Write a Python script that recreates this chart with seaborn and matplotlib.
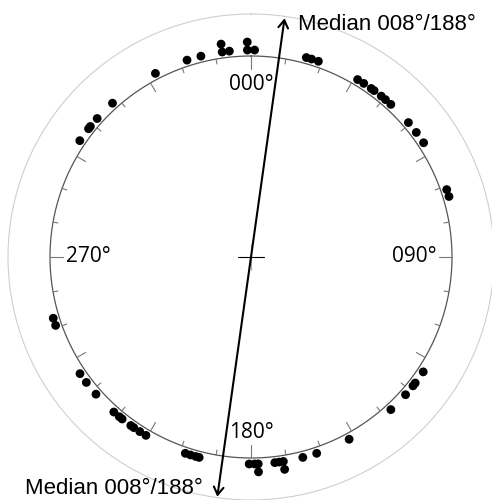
import numpy as np
import pandas as pd
import matplotlib.pyplot as plt
import seaborn as sns

# -------------------- Data --------------------
# bearing of each observation (degrees) and its position in a stack (1 = on the circle)
bearings = [332.5, 342, 346, 352, 352, 354, 359, 359, 1, 15.5, 17, 19,
            31, 33, 35.5, 36.5, 39, 40.5, 42.5, 49.5, 53, 56.5, 71, 73,
            123.7, 127.5, 128.5, 131.7, 137.5, 151.7, 161.5, 165.5,
            171, 171, 172.2, 173.4, 178, 178, 179, 180.5,
            194.5, 195.5, 197, 198.5, 210.5, 212.5, 214.5, 215.5,
            218.5, 219.5, 221.5, 228.5, 232.7, 235.7, 250.7, 252.8,
            304.2, 308.3, 309.1, 312, 318]
stack = [1, 1, 1, 1, 2, 1, 1, 2, 1, 1, 1, 1,
         1, 1, 1, 1, 1, 1, 1, 1, 1, 1, 1, 1,
         1, 1, 1, 1, 1, 1, 1, 1,
         1, 2, 1, 1, 1, 2, 1, 1,
         1, 1, 1, 1, 1, 1, 1, 1,
         1, 1, 1, 1, 1, 1, 1, 1,
         1, 1, 1, 1, 1]
median_bearing = 8
median_label = "Median 008°/188°"
cardinal_bearings = [0, 90, 180, 270]
cardinal_labels = ["000°", "090°", "180°", "270°"]

df = pd.DataFrame({"bearing": bearings, "stack": stack})
df["theta"] = np.deg2rad(df["bearing"])
df["r"] = 207 + 8 * (df["stack"] - 1)

# -------------------- Figure --------------------
sns.set_style("white")
plt.rcParams["font.family"] = ["Liberation Sans", "DejaVu Sans"]
plt.rcParams["text.color"] = "black"

fig = plt.figure(figsize=(4.92, 5.0), dpi=100)
ax = fig.add_axes([8 / 492, 0, 486 / 492, 486 / 500], projection="polar")
ax.set_theta_zero_location("N")
ax.set_theta_direction(-1)
ax.set_ylim(0, 243)
ax.grid(False)
ax.set_xticks([])
ax.set_yticks([])
ax.spines["polar"].set_color("#cfcfcf")
ax.spines["polar"].set_linewidth(0.8)

R = 201
ring = np.linspace(0, 2 * np.pi, 400)
ax.plot(ring, np.full_like(ring, R), color="#555555", lw=0.9)

# ticks every 10 deg, longer every 30, longest at cardinals
for b in range(0, 360, 10):
    if b % 90 == 0:
        L = 13
    elif b % 30 == 0:
        L = 10
    else:
        L = 5
    ax.plot([np.deg2rad(b)] * 2, [R - L, R], color="#777777", lw=0.8)

# centre cross
ax.plot([np.deg2rad(90), np.deg2rad(270)], [13, 13], color="black", lw=0.8)
ax.plot([0, np.pi], [13, 13], color="#999999", lw=0.6)

# observations
sns.scatterplot(data=df, x="theta", y="r", ax=ax, color="black", s=40,
                edgecolor="none", clip_on=False, zorder=5)
ax.set_xlabel("")
ax.set_ylabel("")

# median axis
ax.annotate("", xy=(np.deg2rad(median_bearing), 241),
            xytext=(np.deg2rad(median_bearing + 180), 242),
            arrowprops=dict(arrowstyle="<->,head_length=0.55,head_width=0.35",
                            lw=1.5, color="black", shrinkA=0, shrinkB=0),
            annotation_clip=False)

# cardinal labels
label_r = [172, 163, 176, 163]
for b, lab, rr in zip(cardinal_bearings, cardinal_labels, label_r):
    ax.text(np.deg2rad(b), rr, lab, ha="center", va="center",
            fontsize=15, color="black", family=["Open Sans", "DejaVu Sans"])

fig.text(298 / 492, 1 - 30 / 500, median_label, ha="left", va="baseline",
         fontsize=16, color="black")
fig.text(25 / 492, 1 - 494 / 500, median_label, ha="left", va="baseline",
         fontsize=16, color="black")

fig.savefig("out.png", dpi=100)
plt.close(fig)
